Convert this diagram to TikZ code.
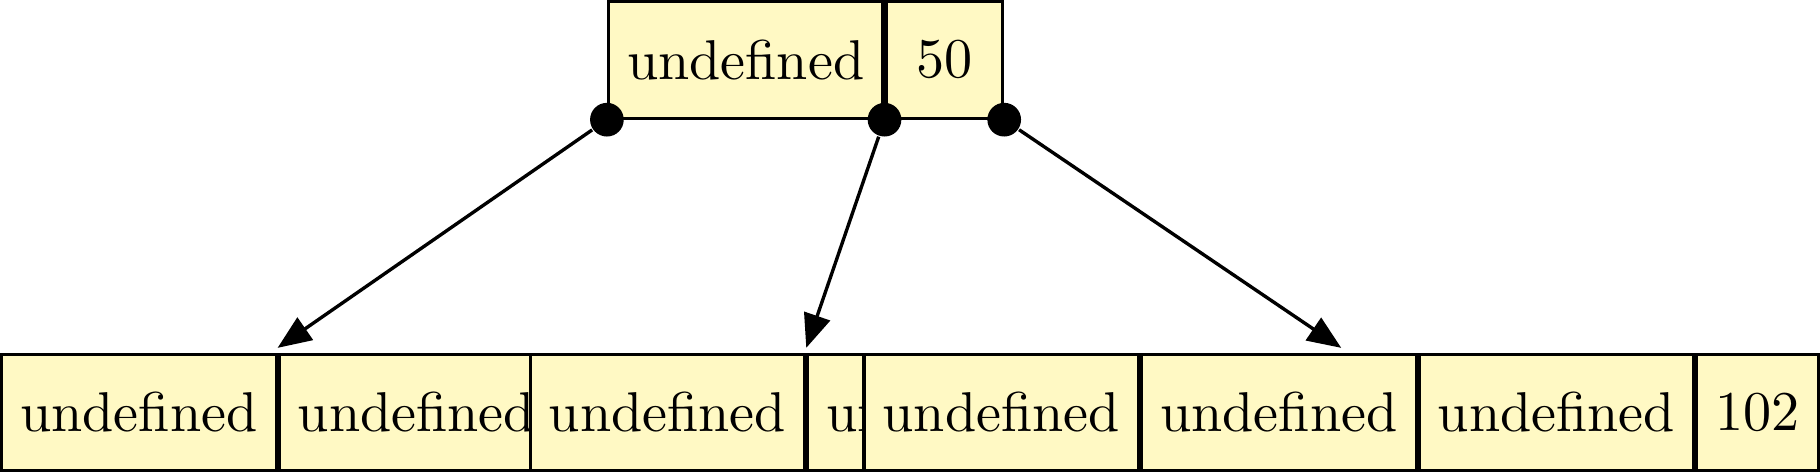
\documentclass[tikz,border=0pt]{standalone}
\usetikzlibrary{positioning,calc,arrows.meta}
\definecolor{keyfill}{RGB}{255,249,196}
\begin{document}
\begin{tikzpicture}[key/.style={draw,fill=keyfill,line width=0.55pt,minimum height=0.73cm,minimum width=0.73cm},
    dot/.style={circle,fill=black,inner sep=0pt,minimum size=6pt},
    link/.style={line width=0.6pt,-{Triangle[length=6pt,width=4.8pt]}}]
    % Root node
    \node[key,anchor=west] (t1) at (3.80,2.584) {undefined};
    \node[key,right=0pt of t1] (t2) {50};
    \node[dot] (p0) at (t1.south west) {};
    \node[dot] (p1) at (t1.south east) {};
    \node[dot] (p2) at (t2.south east) {};

    % Left child
    \node[key,anchor=west] (l1) at (0,0.376) {undefined};
    \node[key,right=0pt of l1] (l2) {undefined};

    % Middle child
    \node[key,anchor=west] (m1) at (3.31,0.376) {undefined};
    \node[key,right=0pt of m1] (m2) {undefined};

    % Right child
    \node[key,anchor=west] (r1) at (5.40,0.376) {undefined};
    \node[key,right=0pt of r1] (r2) {undefined};
    \node[key,right=0pt of r2] (r3) {undefined};
    \node[key,right=0pt of r3] (r4) {102};

    % Child tops
    \coordinate (lc) at ($(l1.north west)!0.5!(l2.north east)+(0,0.03)$);
    \coordinate (mc) at ($(m1.north west)!0.5!(m2.north east)+(0,0.03)$);
    \coordinate (rc) at ($(r1.north west)!0.5!(r4.north east)+(0,0.03)$);

    % Arrows
    \draw[link] (p0) -- (lc);
    \draw[link] (p1) -- (mc);
    \draw[link] (p2) -- (rc);
\end{tikzpicture}
\end{document}
